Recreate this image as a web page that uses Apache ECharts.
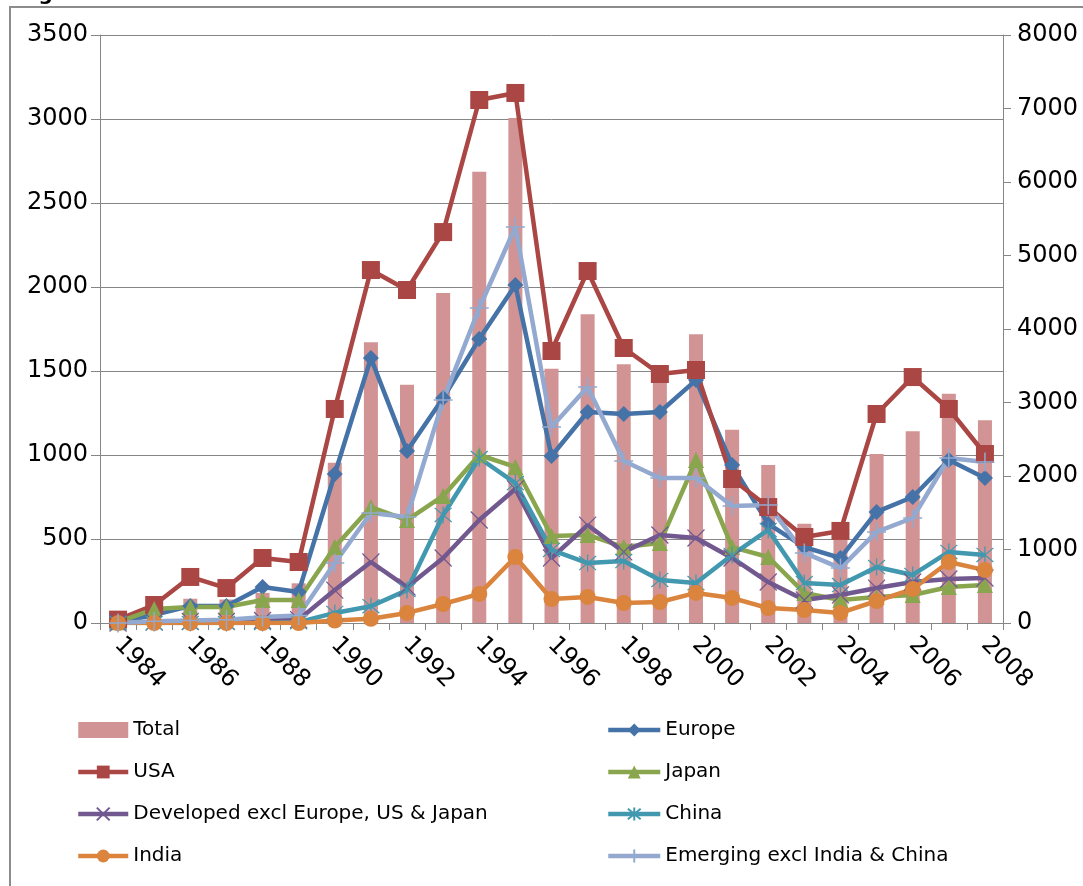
<!DOCTYPE html>
<html>
<head>
<meta charset="utf-8">
<script src="https://cdn.jsdelivr.net/npm/echarts@6/dist/echarts.min.js"></script>
<style>
  html, body { margin: 0; padding: 0; background: #fff; }
  #chart { width: 1083px; height: 886px; }
</style>
</head>
<body>
<div id="chart"></div>
<script>
const years = ['1984','1985','1986','1987','1988','1989','1990','1991','1992','1993','1994','1995','1996','1997','1998','1999','2000','2001','2002','2003','2004','2005','2006','2007','2008'];

const total     = [60, 200, 330, 320, 410, 540, 2180, 3820, 3240, 4490, 6140, 6870, 3460, 4200, 3520, 3330, 3930, 2630, 2150, 1350, 1150, 2300, 2610, 3120, 2760];
const europe    = [5, 48, 101, 101, 214, 185, 887, 1577, 1024, 1339, 1690, 2012, 994, 1256, 1244, 1256, 1446, 940, 590, 452, 387, 661, 750, 970, 863];
const usa       = [20, 107, 274, 208, 387, 363, 1274, 2101, 1982, 2327, 3113, 3155, 1619, 2095, 1637, 1482, 1506, 857, 690, 512, 548, 1244, 1464, 1274, 1006];
const japan     = [5, 83, 95, 95, 137, 137, 452, 690, 613, 756, 1000, 929, 518, 524, 452, 476, 970, 452, 393, 179, 137, 155, 167, 214, 226];
const developed = [0, 5, 10, 10, 15, 20, 196, 363, 214, 387, 613, 798, 387, 583, 423, 524, 506, 387, 244, 137, 167, 208, 244, 262, 268];
const china     = [0, 0, 0, 0, 0, 5, 60, 100, 196, 643, 982, 833, 435, 357, 369, 256, 238, 405, 554, 238, 226, 333, 286, 423, 405];
const india     = [0, 0, 0, 0, 0, 0, 15, 25, 60, 113, 173, 393, 143, 155, 119, 125, 179, 149, 89, 77, 60, 131, 202, 363, 315];
const emerging  = [0, 10, 15, 20, 35, 45, 357, 655, 631, 1327, 1875, 2357, 1167, 1405, 964, 863, 863, 696, 702, 417, 327, 542, 625, 982, 958];

const leftTicks = { min: 0, max: 3500, interval: 500 };
const rightTicks = { min: 0, max: 8000, interval: 1000 };

const FONT = 'DejaVu Sans';
const AX = '#868686';

const X_SYM = 'path://M0,0L10,10M10,0L0,10';
const STAR_SYM = 'path://M0,0L10,10M10,0L0,10M5,-1L5,11';
const PLUS_SYM = 'path://M6,0L6,12M0,6L12,6';

function lineSeries(name, data, color, symbol, size, bw) {
  return {
    name: name,
    type: 'line',
    yAxisIndex: 0,
    data: data,
    symbol: symbol,
    symbolSize: size,
    showAllSymbol: true,
    lineStyle: { color: color, width: 4.5 },
    itemStyle: { color: color, borderColor: color, borderWidth: bw },
    emphasis: { disabled: true }
  };
}

const chart = echarts.init(document.getElementById('chart'), null, { renderer: 'canvas' });

const legendText = { fontSize: 20, fontFamily: FONT, color: '#000' };
const plain = v => String(v);

chart.setOption({
  animation: false,
  backgroundColor: '#fff',
  graphic: [
    { type: 'rect', shape: { x: 10, y: 7, width: 1200, height: 1000 }, style: { fill: 'none', stroke: '#8c8c8c', lineWidth: 2 }, silent: true, z: -10 },
    { type: 'text', x: 18, y: -15, style: { text: 'Figure', font: 'bold 20px "DejaVu Sans"', fill: '#000', verticalAlign: 'top' }, silent: true }
  ],
  grid: { left: 100, right: 80, top: 35, bottom: 263, containLabel: false },
  legend: [
    {
      orient: 'vertical', left: 76, top: 720, padding: 0, itemWidth: 50, itemHeight: 16, itemGap: 22,
      textStyle: legendText, selectedMode: false,
      lineStyle: { width: 4.5 },
      data: [{ name: 'Total', icon: 'rect', itemStyle: { borderWidth: 0 } }, 'USA', 'Developed excl Europe, US & Japan', 'India']
    },
    {
      orient: 'vertical', left: 606, top: 720, padding: 0, itemWidth: 52, itemHeight: 16, itemGap: 22,
      textStyle: legendText, selectedMode: false,
      lineStyle: { width: 4.5 },
      data: ['Europe', 'Japan', 'China', 'Emerging excl India & China']
    }
  ],
  xAxis: {
    type: 'category',
    data: years,
    boundaryGap: true,
    axisLine: { lineStyle: { color: AX, width: 1 } },
    axisTick: { show: true, length: 7, interval: 0, alignWithLabel: false, lineStyle: { color: AX } },
    axisLabel: { interval: 1, rotate: -45, fontSize: 24, fontFamily: FONT, color: '#000', margin: 18 },
    splitLine: { show: false }
  },
  yAxis: [
    {
      type: 'value', position: 'left',
      min: leftTicks.min, max: leftTicks.max, interval: leftTicks.interval,
      axisLine: { show: true, lineStyle: { color: AX } },
      axisTick: { show: true, length: 9, lineStyle: { color: AX } },
      axisLabel: { fontSize: 24, fontFamily: FONT, color: '#000', margin: 12, formatter: plain },
      splitLine: { show: true, lineStyle: { color: AX, width: 1 } }
    },
    {
      type: 'value', position: 'right',
      min: rightTicks.min, max: rightTicks.max, interval: rightTicks.interval,
      axisLine: { show: true, lineStyle: { color: AX } },
      axisTick: { show: true, length: 8, lineStyle: { color: AX } },
      axisLabel: { fontSize: 24, fontFamily: FONT, color: '#000', margin: 14, formatter: plain },
      splitLine: { show: false }
    }
  ],
  series: [
    {
      name: 'Total', type: 'bar', yAxisIndex: 1, data: total, barWidth: 14,
      itemStyle: { color: '#D19393' }, emphasis: { disabled: true }, z: 1
    },
    lineSeries('Europe', europe, '#4572A7', 'diamond', 16, 0),
    lineSeries('USA', usa, '#AA4643', 'rect', 18, 0),
    lineSeries('Japan', japan, '#89A54E', 'triangle', 16, 0),
    lineSeries('Developed excl Europe, US & Japan', developed, '#71588F', X_SYM, 17, 1.2),
    lineSeries('China', china, '#4198AF', STAR_SYM, 17, 1.2),
    lineSeries('India', india, '#DB843D', 'circle', 16, 0),
    lineSeries('Emerging excl India & China', emerging, '#93A9CF', PLUS_SYM, 19, 1.5)
  ]
});
</script>
</body>
</html>
